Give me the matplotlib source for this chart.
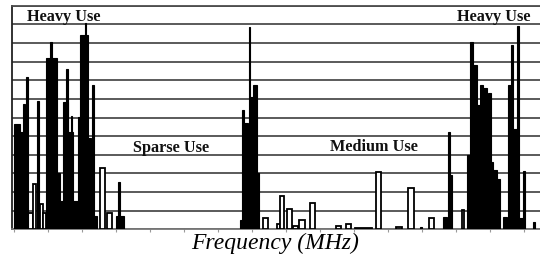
import matplotlib
matplotlib.use("Agg")
import matplotlib.pyplot as plt

# ---- data: occupied bands (frequency units along the sweep), occupancy level ----
# filled (heavily occupied) bands
fill_lo = [2, 8, 11, 14, 25, 34, 38, 45, 48, 51, 54, 56, 58.5, 61, 66, 68, 72.5, 76, 80, 82,
           104, 106,
           228, 229.5, 231, 236.5, 238, 241, 245,
           408, 431, 436, 438, 455, 458, 461, 465, 468, 471, 475, 476, 479, 481, 485,
           491, 496, 498.5, 501, 504.5, 507, 511, 521]
fill_hi = [8, 11, 13, 16, 27, 45, 39.5, 48, 51, 56, 55.5, 61, 60, 66, 68, 76, 74, 79, 82, 85,
           112, 108,
           246, 231.5, 236, 238, 241, 245, 247,
           410, 435, 438, 440, 458, 461, 465, 468, 471, 475, 476, 479, 481, 485, 488,
           495, 498.5, 501, 504.5, 507, 511, 513, 523]
fill_lvl = [5.67, 5.24, 6.7, 8.16, 6.9, 9.2, 10.07, 3.0, 1.5, 6.85, 8.59, 5.24, 6.08, 1.5, 6.05, 10.43, 11.06, 4.88, 7.75, 0.7,
            0.7, 2.54,
            0.5, 6.4, 5.7, 10.87, 7.1, 7.75, 3.0,
            0.1, 0.68, 5.24, 2.9, 4.0, 10.07, 8.8, 6.67, 7.75, 7.6, 6.3, 7.3, 3.6, 3.2, 2.7,
            0.68, 7.75, 9.9, 5.4, 10.9, 0.6, 3.15, 0.4]

# sparsely occupied bands (outlined)
open_lo = [16, 21, 28, 31, 88, 95,
           251, 265, 268, 275, 281, 287, 298, 324, 334, 343, 363.5, 384, 396,
           417, 450]
open_hi = [21, 24, 31, 34, 93, 100,
           256, 268, 272, 280, 286, 293, 303, 329, 339, 360, 368.5, 390, 402,
           422, 452]
open_lvl = [0.87, 2.43, 1.36, 0.87, 3.29, 0.87,
            0.6, 0.28, 1.8, 1.09, 0.2, 0.5, 1.43, 0.2, 0.27, 0.05, 3.1, 0.15, 2.2,
            0.6, 1.03]

labels = ["Heavy Use", "Sparse Use", "Medium Use", "Heavy Use"]
label_f = [52, 159.5, 361.5, 482]
label_lvl = [11.41, 4.38, 4.43, 11.41]

x_title = "Frequency (MHz)"
f_max = 528
lvl_max = 12

# ---- figure ----
fig = plt.figure(figsize=(5.4, 2.58), dpi=100)
ax = fig.add_axes([12 / 540, (258 - 229.3) / 258, 528 / 540, (229.3 - 5.7) / 258])

grid_c = "#4d4d4d"
ax.set_xlim(0, f_max)
ax.set_ylim(0, lvl_max)
ax.set_yticks(range(0, lvl_max + 1))
ax.yaxis.grid(True, color=grid_c, linewidth=1.3)
ax.set_axisbelow(True)
ax.tick_params(axis="y", left=False, labelleft=False)
ax.set_xticks(range(2, f_max, 34))
ax.tick_params(axis="x", length=2, color="#999999", labelbottom=False)

for s in ["right"]:
    ax.spines[s].set_visible(False)
ax.spines["top"].set_color(grid_c)
ax.spines["top"].set_linewidth(1.3)
ax.spines["left"].set_color("#222222")
ax.spines["left"].set_linewidth(1.3)
ax.spines["bottom"].set_color("#777777")
ax.spines["bottom"].set_linewidth(1.3)

ow = [h - l for l, h in zip(open_lo, open_hi)]
ax.bar(open_lo, open_lvl, width=ow, align="edge", facecolor="white",
       edgecolor="black", linewidth=1.3, zorder=3)
fw = [h - l for l, h in zip(fill_lo, fill_hi)]
ax.bar(fill_lo, fill_lvl, width=fw, align="edge", facecolor="black",
       edgecolor="black", linewidth=0.8, zorder=4)

for t, f, v in zip(labels, label_f, label_lvl):
    ax.text(f, v, t, ha="center", va="center", fontsize=11.7,
            family="Liberation Serif", fontweight="bold", zorder=5, color="#111111")

fig.text(275.5 / 540, 1 - 243 / 258, x_title, ha="center", va="center",
         fontsize=17, family="Liberation Serif", style="italic")

fig.savefig("out.png", dpi=100)
